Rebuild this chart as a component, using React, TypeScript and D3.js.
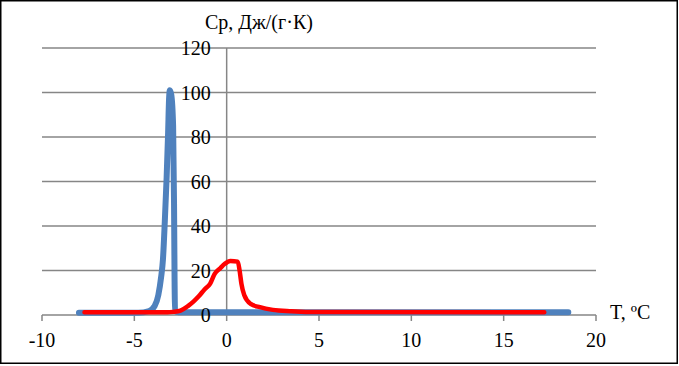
import React from 'react';
import * as d3 from 'd3';

// x ticks and y ticks
const xTicks = [-10, -5, 0, 5, 10, 15, 20];
const yTicks = [0, 20, 40, 60, 80, 100, 120];

// blue series (T, Cp)
const blueT = [-8, -4.8, -4.2, -3.9, -3.7, -3.55, -3.45, -3.35, -3.25, -3.17, -3.12, -3.08, -3.0, -2.9, -2.85, -2.82, -2.8, -2.6, 18.5];
const blueCp = [1, 1, 1.8, 4, 9, 17, 25, 42, 62, 82, 97, 101, 99, 85, 50, 15, 2, 1.2, 1.2];

// red series (T, Cp)
const redT = [-7.7, -3.2, -2.9, -2.5, -2.1, -1.8, -1.5, -1.2, -0.9, -0.65, -0.35, -0.1, 0.2, 0.6, 0.7, 0.8, 0.95, 1.3, 1.8, 2.5, 3.5, 5, 17.2];
const redCp = [1.2, 1.2, 1.4, 2, 4, 6, 8.5, 11.5, 14, 18.5, 21, 23, 24.3, 24, 20, 14, 9, 5, 3.5, 2.3, 1.7, 1.3, 1.2];

const W = 679;
const H = 366;
const font = 'Liberation Serif';

export default function App() {
  const x = d3.scaleLinear().domain([-10, 20]).range([42, 596]);
  const y = d3.scaleLinear().domain([0, 120]).range([315, 48]);

  const line = d3.line<[number, number]>()
    .x(d => x(d[0]))
    .y(d => y(d[1]))
    .curve(d3.curveMonotoneX);

  const blue = blueT.map((t, i) => [t, blueCp[i]] as [number, number]);
  const red = redT.map((t, i) => [t, redCp[i]] as [number, number]);

  const grid = '#868686';

  return (
    <svg width={W} height={H} style={{ position: 'absolute', left: 0, top: 0, display: 'block', fontFamily: font }}>
      <rect x={0} y={0} width={W} height={H} fill="#fff" />
      <rect x={0.75} y={0.75} width={676.5} height={362.5} fill="none" stroke="#000" strokeWidth={1.5} />

      {/* horizontal gridlines */}
      {yTicks.map(v => (
        <line key={'g' + v} x1={x(-10)} x2={x(20)} y1={y(v)} y2={y(v)} stroke={grid} strokeWidth={1.5} />
      ))}
      {/* vertical axis at T=0 */}
      <line x1={x(0)} x2={x(0)} y1={y(120)} y2={y(0)} stroke={grid} strokeWidth={1.5} />
      {/* x ticks */}
      {xTicks.map(v => (
        <line key={'t' + v} x1={x(v)} x2={x(v)} y1={y(0)} y2={y(0) + 6} stroke={grid} strokeWidth={1.5} />
      ))}

      <path d={line(blue) || ''} fill="none" stroke="#4F81BD" strokeWidth={6} strokeLinecap="round" strokeLinejoin="round" />
      <path d={line(red) || ''} fill="none" stroke="#FF0000" strokeWidth={4.5} strokeLinecap="round" strokeLinejoin="round" />

      {/* y tick labels */}
      {yTicks.map(v => (
        <text key={'yl' + v} x={x(0) - 16} y={y(v) + 7} textAnchor="end" fontSize={20} fill="#000">{v}</text>
      ))}
      {/* x tick labels */}
      {xTicks.map(v => (
        <text key={'xl' + v} x={x(v)} y={347} textAnchor="middle" fontSize={20} fill="#000">{v}</text>
      ))}

      <text x={205} y={29} fontSize={20} fill="#000">Ср, Дж/(г·К)</text>
      <text x={610} y={319} fontSize={20} fill="#000">T, ºC</text>
    </svg>
  );
}
